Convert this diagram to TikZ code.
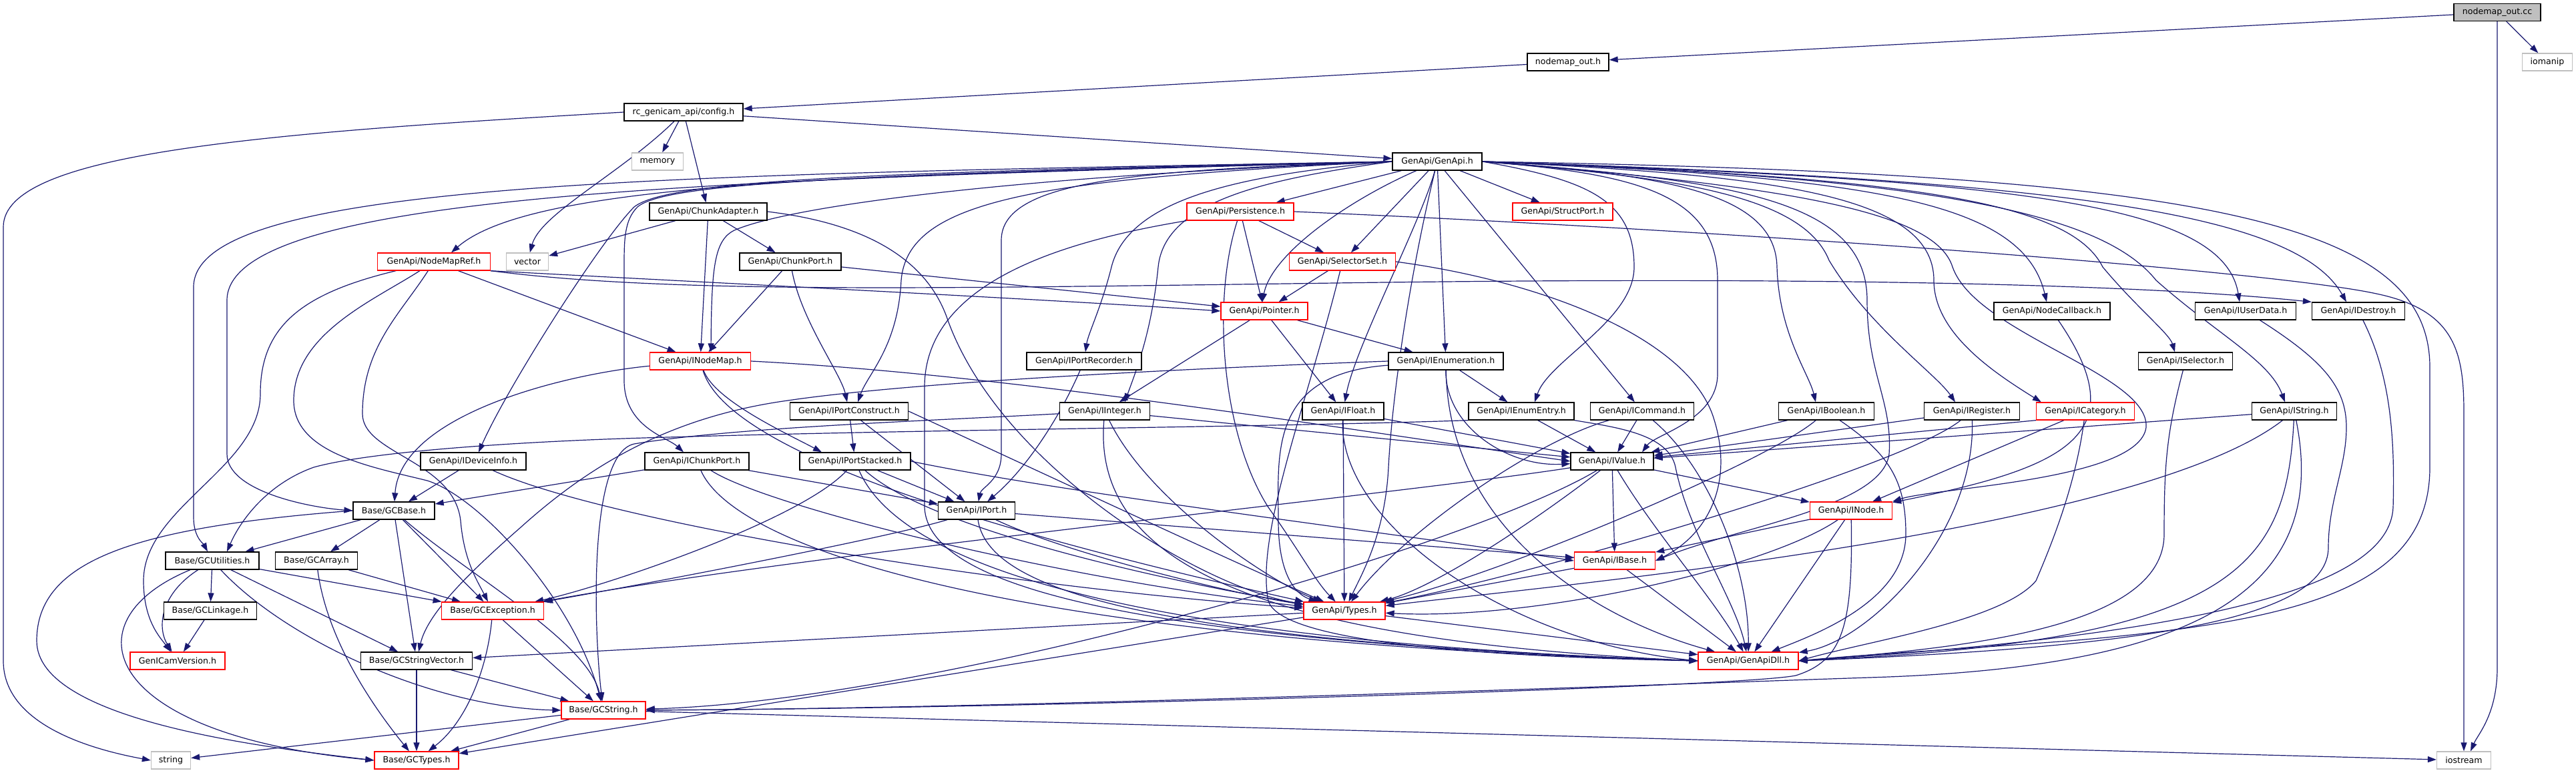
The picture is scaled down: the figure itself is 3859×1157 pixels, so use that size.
\documentclass[tikz,border=0pt]{standalone}
\usepackage{fontspec}
\newfontfamily\dvs{DejaVu Sans}
\usetikzlibrary{arrows.meta,calc}
\definecolor{edgeblue}{HTML}{191970}
\definecolor{boxred}{HTML}{FF0000}
\definecolor{extgray}{HTML}{BFBFBF}
\pgfdeclarelayer{bg}
\pgfsetlayers{bg,main}
\tikzset{
  box/.style={draw=black, line width=1.3pt, fill=white, minimum height=26pt, inner sep=0pt,
    font=\dvs\fontsize{12.6}{14}\selectfont},
  trunc/.style={box, draw=boxred},
  ext/.style={box, draw=extgray},
  e/.style={draw=edgeblue, line width=1.2pt, -{Triangle[length=13pt,width=9pt]}}
}
\begin{document}
\begin{tikzpicture}[x=1pt,y=1pt]
\useasboundingbox (0,0) rectangle (3859,-1157);
% ---------- nodes ----------
\node[box, fill=extgray, minimum width=130pt] (cc) at (3741,-18.5) {nodemap\_out.cc};
\node[box, minimum width=122pt] (outh) at (2349,-93) {nodemap\_out.h};
\node[ext, minimum width=75pt] (iomanip) at (3816,-93) {iomanip};
\node[box, minimum width=178pt] (config) at (1024,-168) {rc\_genicam\_api/config.h};
\node[ext, minimum width=77pt] (memory) at (985,-242) {memory};
\node[box, minimum width=134pt] (genapi) at (2153,-242) {GenApi/GenApi.h};
\node[box, minimum width=176pt] (chunkadapter) at (1061,-317) {GenApi/ChunkAdapter.h};
\node[trunc, minimum width=160pt] (persistence) at (1858,-317) {GenApi/Persistence.h};
\node[trunc, minimum width=150pt] (structport) at (2341,-317) {GenApi/StructPort.h};
\node[trunc, minimum width=169pt] (nodemapref) at (650,-392) {GenApi/NodeMapRef.h};
\node[ext, minimum width=63pt] (vector) at (790,-392) {vector};
\node[box, minimum width=152pt] (chunkport) at (1184,-392) {GenApi/ChunkPort.h};
\node[trunc, minimum width=159pt] (selectorset) at (2011,-392) {GenApi/SelectorSet.h};
\node[trunc, minimum width=130pt] (pointer) at (1894,-466) {GenApi/Pointer.h};
\node[box, minimum width=174pt] (nodecallback) at (3074,-466) {GenApi/NodeCallback.h};
\node[box, minimum width=151pt] (iuserdata) at (3364,-466) {GenApi/IUserData.h};
\node[box, minimum width=139pt] (idestroy) at (3533,-466) {GenApi/IDestroy.h};
\node[trunc, minimum width=151pt] (inodemap) at (1049,-541) {GenApi/INodeMap.h};
\node[box, minimum width=172pt] (iportrecorder) at (1624,-541) {GenApi/IPortRecorder.h};
\node[box, minimum width=172pt] (ienumeration) at (2166,-541) {GenApi/IEnumeration.h};
\node[box, minimum width=141pt] (iselector) at (3274,-541) {GenApi/ISelector.h};
\node[box, minimum width=177pt] (iportconstruct) at (1272,-616) {GenApi/IPortConstruct.h};
\node[box, minimum width=135pt] (iinteger) at (1655,-616) {GenApi/IInteger.h};
\node[box, minimum width=122pt] (ifloat) at (2012,-616) {GenApi/IFloat.h};
\node[box, minimum width=158pt] (ienumentry) at (2279,-616) {GenApi/IEnumEntry.h};
\node[box, minimum width=155pt] (icommand) at (2460,-616) {GenApi/ICommand.h};
\node[box, minimum width=143pt] (iboolean) at (2736,-616) {GenApi/IBoolean.h};
\node[box, minimum width=143pt] (iregister) at (2954,-616) {GenApi/IRegister.h};
\node[trunc, minimum width=147pt] (icategory) at (3124,-616) {GenApi/ICategory.h};
\node[box, minimum width=127pt] (istring) at (3437,-616) {GenApi/IString.h};
\node[box, minimum width=158pt] (ideviceinfo) at (709,-691) {GenApi/IDeviceInfo.h};
\node[box, minimum width=156pt] (ichunkport) at (1044,-691) {GenApi/IChunkPort.h};
\node[box, minimum width=166pt] (iportstacked) at (1281,-691) {GenApi/IPortStacked.h};
\node[box, minimum width=124pt] (ivalue) at (2415,-691) {GenApi/IValue.h};
\node[box, minimum width=122pt] (gcbase) at (590,-765) {Base/GCBase.h};
\node[box, minimum width=115pt] (iport) at (1463,-765) {GenApi/IPort.h};
\node[trunc, minimum width=123pt] (inode) at (2773,-765) {GenApi/INode.h};
\node[box, minimum width=140pt] (gcutilities) at (318,-840) {Base/GCUtilities.h};
\node[box, minimum width=123pt] (gcarray) at (474,-840) {Base/GCArray.h};
\node[trunc, minimum width=121pt] (ibase) at (2419,-840) {GenApi/IBase.h};
\node[box, minimum width=139pt] (gclinkage) at (315,-915) {Base/GCLinkage.h};
\node[trunc, minimum width=153pt] (gcexception) at (738,-915) {Base/GCException.h};
\node[trunc, minimum width=122pt] (types) at (2014,-915) {GenApi/Types.h};
\node[trunc, minimum width=142pt] (genicamversion) at (266,-990) {GenICamVersion.h};
\node[box, minimum width=167pt] (gcstringvector) at (624,-990) {Base/GCStringVector.h};
\node[trunc, minimum width=150pt] (genapidll) at (2619,-990) {GenApi/GenApiDll.h};
\node[trunc, minimum width=126pt] (gcstring) at (904,-1064) {Base/GCString.h};
\node[ext, minimum width=59pt] (string) at (256,-1139) {string};
\node[trunc, minimum width=126pt] (gctypes) at (624,-1139) {Base/GCTypes.h};
\node[ext, minimum width=81pt] (iostream) at (3691,-1139) {iostream};
% ---------- edges ----------
\begin{pgfonlayer}{bg}
% top
\draw[e] (cc) -- (outh);
\draw[e] (cc) -- (iomanip);
\draw[e] (cc.south) -- (3741,-1000) .. controls (3741,-1070) and (3712,-1100) .. ($(iostream.north)+(10,0)$);
\draw[e] (outh) -- (config);
\draw[e] (config) -- (genapi);
\draw[e] (config) -- (memory);
\draw[e] (config) .. controls (930,-260) and (810,-320) .. (vector);
\draw[e] (config) -- (chunkadapter);
\draw[e] (config.west) .. controls (380,-200) and (5,-230) .. (5,-340) -- (5,-990) .. controls (5,-1090) and (150,-1125) .. (string.west);
% ChunkAdapter
\draw[e] (chunkadapter) -- (vector);
\draw[e] (chunkadapter) -- (chunkport);
\draw[e] (chunkadapter) -- (inodemap);
\draw[e] (chunkadapter.east) .. controls (1300,-335) and (1390,-390) .. (1420,-480) .. controls (1500,-700) and (1800,-880) .. (types);
% GenApi.h fan left
\draw[e] (genapi.west) .. controls (1000,-262) and (290,-270) .. (290,-430) -- (290,-775) .. controls (290,-805) and (305,-815) .. ($(gcutilities.north)+(-7,0)$);
\draw[e] (genapi.west) .. controls (1100,-270) and (340,-285) .. (340,-450) -- (340,-680) .. controls (340,-735) and (460,-760) .. (gcbase.west);
\draw[e] (genapi.west) .. controls (1300,-262) and (800,-270) .. ($(nodemapref.north)+(26,0)$);
\draw[e] (genapi.west) .. controls (1300,-258) and (1000,-270) .. (950,-310) .. controls (900,-360) and (760,-580) .. ($(ideviceinfo.north)+(8,0)$);
\draw[e] (genapi.west) .. controls (1300,-262) and (1000,-272) .. (955,-310) .. controls (935,-330) and (935,-360) .. (935,-400) -- (935,-570) .. controls (935,-640) and (1000,-655) .. ($(ichunkport.north)+(-20,0)$);
\draw[e] (genapi.west) .. controls (1500,-265) and (1180,-310) .. (1100,-345) .. controls (1070,-360) and (1066,-400) .. ($(inodemap.north)+(16,0)$);
\draw[e] (genapi.west) .. controls (1550,-268) and (1360,-300) .. (1350,-420) .. controls (1345,-520) and (1300,-560) .. ($(iportconstruct.north)+(13,0)$);
\draw[e] (genapi.west) .. controls (1700,-255) and (1500,-270) .. (1500,-360) -- (1500,-680) .. controls (1500,-720) and (1470,-730) .. (iport);
\draw[e] (genapi.west) .. controls (1850,-262) and (1690,-300) .. (1665,-400) .. controls (1650,-460) and (1630,-500) .. (iportrecorder);
\draw[e] (genapi.west) .. controls (1900,-268) and (1745,-300) .. (1735,-400) .. controls (1725,-500) and (1700,-560) .. ($(iinteger.north)+(30,0)$);
\draw[e] (genapi) .. controls (2020,-300) and (1905,-380) .. ($(pointer.north)+(-3,0)$);
\draw[e] (genapi) -- (persistence);
\draw[e] (genapi) -- (selectorset);
\draw[e] (genapi) -- (structport);
\draw[e] (genapi) -- (ienumeration);
\draw[e] (genapi) .. controls (2130,-330) and (2030,-520) .. (ifloat);
\draw[e] (genapi) .. controls (2110,-420) and (2085,-600) .. (2080,-700) .. controls (2075,-800) and (2040,-860) .. (types);
\draw[e] (genapi) -- (icommand);
% GenApi.h fan right
\draw[e] (genapi.east) .. controls (2380,-270) and (2448,-300) .. (2448,-400) .. controls (2448,-480) and (2320,-540) .. ($(ienumentry.north)+(20,0)$);
\draw[e] (genapi.east) .. controls (2450,-260) and (2573,-290) .. (2573,-420) -- (2573,-560) .. controls (2573,-630) and (2480,-650) .. ($(ivalue.north)+(45,0)$);
\draw[e] (genapi.east) .. controls (2600,-270) and (2797,-300) .. (2797,-450) .. controls (2797,-560) and (2835,-600) .. (2830,-680) .. controls (2820,-760) and (2600,-790) .. (ibase.east);
\draw[e] (genapi.east) .. controls (2700,-280) and (2900,-320) .. (2925,-400) .. controls (2960,-500) and (3220,-560) .. (3215,-640) .. controls (3205,-720) and (2900,-730) .. (inode.north east);
\draw[e] (genapi.east) .. controls (2500,-262) and (2660,-290) .. (2662,-400) .. controls (2665,-500) and (2710,-560) .. ($(iboolean.north)+(-16,0)$);
\draw[e] (genapi.east) .. controls (2500,-265) and (2700,-290) .. (2740,-390) .. controls (2800,-490) and (2900,-560) .. ($(iregister.north)+(-25,0)$);
\draw[e] (genapi.east) .. controls (2650,-262) and (2897,-290) .. (2897,-420) .. controls (2897,-500) and (2990,-560) .. ($(icategory.north west)+(8,0)$);
\draw[e] (genapi.east) .. controls (2800,-265) and (3030,-300) .. ($(nodecallback.north)+(-8,0)$);
\draw[e] (genapi.east) .. controls (2850,-265) and (3100,-300) .. (3150,-400) .. controls (3200,-460) and (3250,-500) .. ($(iselector.north)+(-16,0)$);
\draw[e] (genapi.east) .. controls (2900,-265) and (3150,-320) .. (3230,-420) .. controls (3320,-500) and (3400,-540) .. ($(istring.north)+(-14,0)$);
\draw[e] (genapi.east) .. controls (3000,-270) and (3330,-300) .. ($(iuserdata.north)+(-9,0)$);
\draw[e] (genapi.east) .. controls (3100,-270) and (3440,-320) .. ($(idestroy.north)+(-18,0)$);
\draw[e] (genapi.east) .. controls (3300,-260) and (3640,-330) .. (3640,-550) -- (3640,-700) .. controls (3640,-880) and (3450,-930) .. (3100,-960) .. controls (2900,-975) and (2800,-980) .. (genapidll.east);
% Persistence
\draw[e] (persistence) -- (pointer);
\draw[e] (persistence) -- (selectorset);
\draw[e] (persistence) .. controls (1815,-450) and (1830,-650) .. (1900,-760) .. controls (1950,-830) and (1970,-870) .. (types);
\draw[e] (persistence.south west) .. controls (1600,-360) and (1385,-420) .. (1385,-580) -- (1385,-760) .. controls (1390,-880) and (1700,-960) .. (genapidll.west);
\draw[e] (persistence.east) .. controls (2600,-345) and (3400,-405) .. (3560,-440) .. controls (3680,-465) and (3691,-530) .. (3691,-620) -- (iostream);
% SelectorSet
\draw[e] (selectorset) -- (pointer);
\draw[e] (selectorset.east) .. controls (2300,-420) and (2520,-500) .. (2565,-620) .. controls (2600,-720) and (2560,-800) .. (ibase.east);
\draw[e] (selectorset) .. controls (1960,-600) and (1880,-800) .. (1900,-900) .. controls (1920,-970) and (2300,-985) .. (genapidll.west);
% NodeMapRef
\draw[e] (nodemapref) -- (inodemap);
\draw[e] (nodemapref.south east) .. controls (1000,-420) and (1600,-450) .. (pointer.west);
\draw[e] (nodemapref.south east) .. controls (1000,-440) and (1400,-432) .. (2000,-424) .. controls (2700,-414) and (3200,-425) .. (idestroy.north west);
\draw[e] (nodemapref) .. controls (450,-440) and (390,-490) .. (390,-590) .. controls (390,-700) and (215,-760) .. (215,-870) .. controls (215,-930) and (240,-955) .. (genicamversion);
\draw[e] (nodemapref) .. controls (560,-450) and (440,-500) .. (440,-600) .. controls (440,-680) and (560,-700) .. (640,-720) .. controls (720,-745) and (860,-900) .. (gcstring);
\draw[e] (nodemapref) .. controls (600,-470) and (543,-520) .. (543,-620) .. controls (543,-680) and (680,-690) .. (690,-780) .. controls (695,-840) and (715,-870) .. (gcexception);
% ChunkPort
\draw[e] (chunkport) -- (inodemap);
\draw[e] (chunkport) .. controls (1200,-480) and (1260,-560) .. (iportconstruct);
\draw[e] (chunkport) -- (pointer);
% Pointer
\draw[e] (pointer) -- (iinteger);
\draw[e] (pointer) -- (ifloat);
\draw[e] (pointer) -- (ienumeration);
% INodeMap
\draw[e] (inodemap) .. controls (850,-560) and (600,-620) .. (gcbase);
\draw[e] (inodemap) .. controls (1070,-600) and (1180,-650) .. ($(iportstacked.north)+(-50,0)$);
\draw[e] (inodemap.east) .. controls (1500,-560) and (2000,-640) .. (ivalue.west);
\draw[e] (inodemap) .. controls (1090,-680) and (1500,-800) .. (types);
% IPortRecorder
\draw[e] (iportrecorder) .. controls (1590,-620) and (1540,-700) .. (iport);
% IEnumeration
\draw[e] (ienumeration) -- (ienumentry);
\draw[e] (ienumeration) .. controls (2165,-640) and (2260,-700) .. (ivalue);
\draw[e] (ienumeration) .. controls (1900,-560) and (1915,-680) .. (1915,-780) .. controls (1915,-860) and (1940,-890) .. (types);
\draw[e] (ienumeration) .. controls (2170,-800) and (2400,-930) .. (genapidll);
\draw[e] (ienumeration.west) .. controls (1700,-555) and (1350,-575) .. (1180,-600) .. controls (1000,-625) and (880,-700) .. (780,-790) .. controls (700,-860) and (640,-920) .. (gcstringvector);
% IEnumEntry
\draw[e] (ienumentry) -- (ivalue);
\draw[e] (ienumentry.south east) .. controls (2420,-640) and (2500,-650) .. (2510,-700) .. controls (2530,-800) and (2600,-900) .. (genapidll);
\draw[e] (ienumentry.south west) .. controls (1900,-640) and (1400,-643) .. (1000,-655) .. controls (800,-660) and (560,-675) .. (470,-700) .. controls (400,-725) and (360,-780) .. ($(gcutilities.north)+(22,0)$);
% ICommand
\draw[e] (icommand) -- (ivalue);
\draw[e] (icommand) .. controls (2300,-660) and (2100,-800) .. (types);
\draw[e] (icommand) .. controls (2560,-700) and (2620,-850) .. (genapidll);
% IFloat
\draw[e] (ifloat) -- (ivalue);
\draw[e] (ifloat) -- (types);
\draw[e] (ifloat) .. controls (2005,-780) and (2250,-960) .. (genapidll.west);
% IInteger
\draw[e] (iinteger) -- (ivalue);
\draw[e] (iinteger) .. controls (1720,-750) and (1900,-870) .. (types);
\draw[e] (iinteger) .. controls (1635,-850) and (1900,-960) .. (genapidll.west);
\draw[e] (iinteger) .. controls (1400,-630) and (1100,-640) .. (950,-665) .. controls (880,-680) and (890,-950) .. (gcstring);
% IPortConstruct
\draw[e] (iportconstruct) -- (iportstacked);
\draw[e] (iportconstruct) -- (iport);
\draw[e] (iportconstruct.east) .. controls (1500,-680) and (1800,-820) .. (types);
% IPortStacked
\draw[e] (iportstacked) -- (iport);
\draw[e] (iportstacked.east) .. controls (1600,-740) and (2100,-800) .. (ibase.west);
\draw[e] (iportstacked) .. controls (1200,-780) and (900,-880) .. (gcexception);
\draw[e] (iportstacked) .. controls (1400,-800) and (1800,-880) .. (types);
\draw[e] (iportstacked) .. controls (1350,-850) and (1700,-960) .. (genapidll.west);
% IChunkPort
\draw[e] (ichunkport) -- (gcbase);
\draw[e] (ichunkport) -- (iport);
\draw[e] (ichunkport) .. controls (1150,-760) and (1600,-870) .. (types);
\draw[e] (ichunkport) .. controls (1100,-820) and (1500,-960) .. (genapidll.west);
% IDeviceInfo
\draw[e] (ideviceinfo) -- (gcbase);
\draw[e] (ideviceinfo) .. controls (900,-780) and (1500,-880) .. (types);
% IPort
\draw[e] (iport) -- (ibase);
\draw[e] (iport) .. controls (1600,-830) and (1850,-890) .. (types);
\draw[e] (iport) .. controls (1480,-880) and (1700,-960) .. (genapidll.west);
\draw[e] (iport) .. controls (1350,-800) and (1050,-860) .. (gcexception);
% IValue
\draw[e] (ivalue) -- (ibase);
\draw[e] (ivalue) -- (inode);
\draw[e] (ivalue) .. controls (2300,-780) and (2150,-880) .. (types);
\draw[e] (ivalue) .. controls (2480,-800) and (2570,-900) .. (genapidll);
\draw[e] (ivalue) .. controls (2200,-820) and (1400,-1050) .. (gcstring);
\draw[e] (ivalue) .. controls (2100,-740) and (1200,-830) .. (gcexception);
% INode
\draw[e] (inode) -- (ibase);
\draw[e] (inode) .. controls (2650,-850) and (2300,-930) .. (types);
\draw[e] (inode) -- (genapidll);
\draw[e] (inode) .. controls (2776,-940) and (2760,-990) .. (2690,-1012) .. controls (2600,-1030) and (1500,-1062) .. (gcstring);
% IBase, Types
\draw[e] (ibase) -- (types);
\draw[e] (ibase) -- (genapidll);
\draw[e] (types) -- (genapidll);
\draw[e] (types) -- (gcstringvector);
\draw[e] (types) -- (gctypes);
% IBoolean
\draw[e] (iboolean) -- (ivalue);
\draw[e] (iboolean) .. controls (2650,-690) and (2250,-860) .. (types);
\draw[e] (iboolean) .. controls (2830,-680) and (2855,-720) .. (2855,-800) .. controls (2855,-900) and (2720,-950) .. (genapidll);
% IRegister
\draw[e] (iregister) -- (ivalue);
\draw[e] (iregister) .. controls (2850,-700) and (2300,-860) .. (types);
\draw[e] (iregister) .. controls (2960,-800) and (2800,-960) .. (genapidll);
% ICategory
\draw[e] (icategory.south west) -- (ivalue);
\draw[e] (icategory) -- (inode);
\draw[e] (icategory) .. controls (3110,-720) and (3080,-800) .. (3050,-870) .. controls (3000,-930) and (2800,-960) .. (genapidll.east);
% IString
\draw[e] (istring) -- (ivalue);
\draw[e] (istring) .. controls (3200,-800) and (2300,-880) .. (types);
\draw[e] (istring) .. controls (3425,-850) and (3350,-960) .. (genapidll.east);
\draw[e] (istring) .. controls (3490,-880) and (3300,-1000) .. (2800,-1015) .. controls (2500,-1025) and (1500,-1062) .. (gcstring);
% ISelector, NodeCallback, IUserData, IDestroy
\draw[e] (iselector) .. controls (3245,-650) and (3242,-700) .. (3242,-800) .. controls (3242,-940) and (2950,-970) .. (genapidll.east);
\draw[e] (nodecallback) .. controls (3200,-650) and (3100,-700) .. (inode);
\draw[e] (iuserdata) .. controls (3480,-540) and (3515,-580) .. (3515,-640) .. controls (3515,-700) and (3488,-750) .. (3488,-820) .. controls (3488,-930) and (3200,-970) .. (genapidll.east);
\draw[e] (idestroy) .. controls (3580,-560) and (3588,-650) .. (3585,-760) .. controls (3580,-880) and (3300,-950) .. (genapidll.east);
% Base
\draw[e] (gcbase) -- (gcutilities);
\draw[e] (gcbase) -- (gcarray);
\draw[e] (gcbase) -- (gcexception);
\draw[e] (gcbase) -- (gcstringvector);
\draw[e] (gcbase) .. controls (700,-860) and (880,-960) .. (gcstring);
\draw[e] (gcbase.west) .. controls (200,-790) and (55,-840) .. (55,-960) .. controls (55,-1080) and (400,-1120) .. (gctypes.west);
\draw[e] (gcutilities) -- (gclinkage);
\draw[e] (gcutilities) .. controls (240,-890) and (235,-940) .. (genicamversion);
\draw[e] (gcutilities) -- (gcexception);
\draw[e] (gcutilities) -- (gcstringvector);
\draw[e] (gcutilities) .. controls (430,-960) and (650,-1060) .. (gcstring.west);
\draw[e] (gcutilities) .. controls (100,-930) and (150,-1100) .. (gctypes.west);
\draw[e] (gcarray) -- (gcexception);
\draw[e] (gcarray) .. controls (490,-960) and (560,-1060) .. (gctypes);
\draw[e] (gclinkage) -- (genicamversion);
\draw[e] (gcexception) -- (gcstring);
\draw[e] (gcexception) .. controls (730,-1000) and (700,-1080) .. (gctypes);
\draw[e] (gcstringvector) -- (gcstring);
\draw[e] (gcstringvector) -- (gctypes);
\draw[e] (gcstring) -- (gctypes);
\draw[e] (gcstring) -- (string);
\draw[e] (gcstring) -- (iostream);
\end{pgfonlayer}
\end{tikzpicture}
\end{document}
